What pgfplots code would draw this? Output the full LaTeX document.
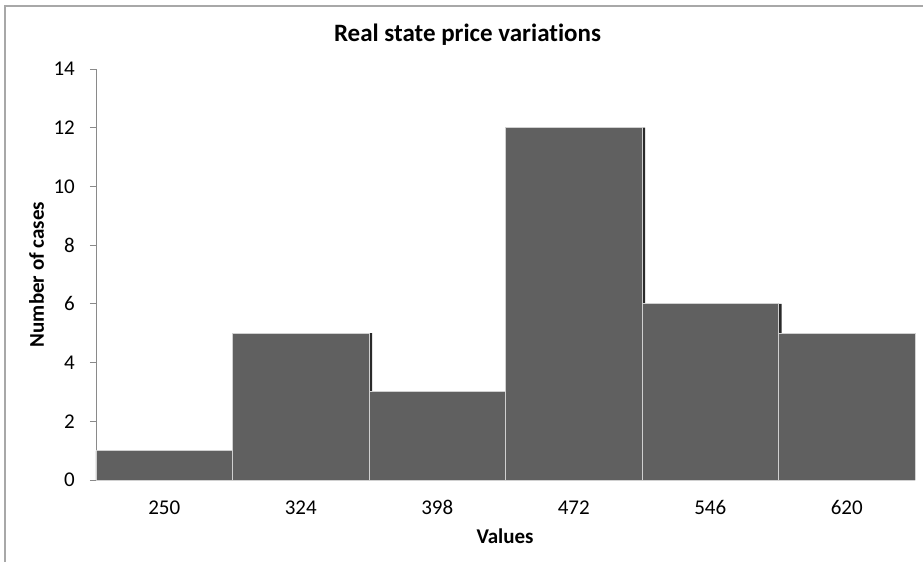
\documentclass[border=0pt]{standalone}
\usepackage{fontspec}
\setmainfont{Carlito}[Ligatures={NoCommon}]
\usepackage{pgfplots}
\pgfplotsset{compat=1.18}
\definecolor{barfill}{HTML}{606060}
\definecolor{barline}{HTML}{D0D0D0}
\definecolor{axisgray}{HTML}{8A8A8A}
\definecolor{framegray}{HTML}{A8A8A8}
\definecolor{shadow}{HTML}{2A2A2A}
\pgfplotstableread{
x y
0 1
1 5
2 3
3 12
4 6
5 5
}\histdata
\begin{document}
\begin{tikzpicture}[x=1pt,y=1pt]
\begin{axis}[
  at={(96pt,82pt)}, anchor=south west,
  scale only axis, width=819pt, height=411pt,
  xmin=-0.5, xmax=5.5, ymin=0, ymax=14,
  axis x line*=bottom, axis y line*=left,
  axis line style={color=axisgray, line width=0.9pt},
  ytick={0,2,...,14},
  xtick={0,...,5}, xticklabels={250,324,398,472,546,620},
  tick align=outside, major tick length=6pt,
  xtick style={draw=none},
  ytick style={color=axisgray, line width=0.9pt},
  /pgf/number format/assume math mode=true,
  tick label style={font=\fontsize{21}{25}\selectfont, text=black},
  yticklabel style={anchor=east, inner sep=0pt, xshift=-15pt},
  xticklabel style={anchor=north, inner sep=0pt, text height=14pt, text depth=0pt, yshift=-14pt},
  title={Real state price variations},
  title style={font=\fontsize{25}{30}\selectfont\bfseries, at={(axis description cs:0.4536,1.052)}, anchor=base, inner sep=0pt},
  xlabel={Values},
  xlabel style={font=\fontsize{21}{25}\selectfont\bfseries, at={(axis description cs:0.4994,-0.1533)}, anchor=base, inner sep=0pt},
  ylabel={Number of cases},
  ylabel style={font=\fontsize{21}{25}\selectfont\bfseries, at={(axis description cs:-0.0635,0.5)}, anchor=base, rotate=0, inner sep=0pt},
]
\addplot[ybar, bar width=136.5pt, bar shift=3pt, fill=shadow, draw=none] table[x=x,y=y] {\histdata};
\addplot[ybar, bar width=136.5pt, bar shift=0pt, fill=barfill, draw=barline, line width=0.9pt] table[x=x,y=y] {\histdata};
\end{axis}
\draw[framegray, line width=1.3pt] (5,0) -- (5,556) -- (923,556);
\pgfresetboundingbox
\useasboundingbox (0,0) rectangle (923,562);
\end{tikzpicture}
\end{document}
